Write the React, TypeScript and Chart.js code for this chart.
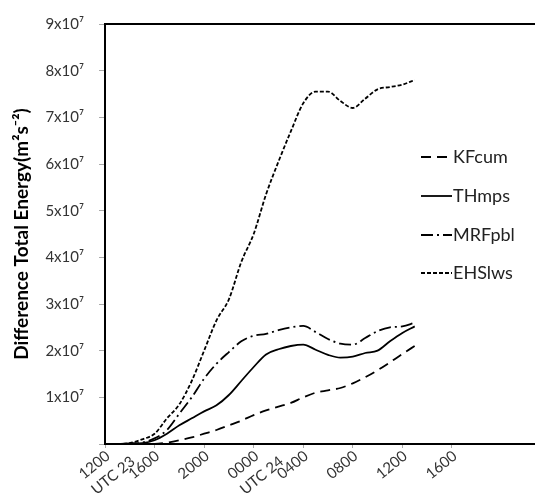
import React, { useEffect, useRef } from "react";
import { Chart, registerables } from "chart.js";

Chart.register(...registerables);

// hours since 1200 UTC 23
const hours = [0, 1, 2, 3, 4, 5, 6, 7, 8, 9, 10, 11, 12, 13, 14, 15, 16, 17, 18, 19, 20, 21, 22, 23, 24, 25];

// values in units of 10^7 m^2 s^-2
const kfcum = [0, 0, 0, 0, 0, 0.03, 0.08, 0.14, 0.22, 0.3, 0.4, 0.5, 0.62, 0.72, 0.8, 0.88, 1.0, 1.1, 1.15, 1.2, 1.3, 1.43, 1.58, 1.75, 1.93, 2.1];
const thmps = [0, 0, 0.01, 0.02, 0.08, 0.22, 0.4, 0.55, 0.7, 0.83, 1.05, 1.35, 1.65, 1.92, 2.03, 2.1, 2.13, 2.02, 1.91, 1.85, 1.87, 1.95, 2.0, 2.2, 2.38, 2.52];
const mrfpbl = [0, 0, 0.01, 0.03, 0.12, 0.3, 0.65, 1.0, 1.4, 1.72, 1.97, 2.2, 2.32, 2.36, 2.44, 2.5, 2.53, 2.4, 2.25, 2.15, 2.13, 2.27, 2.42, 2.5, 2.52, 2.6];
const ehslws = [0, 0, 0.02, 0.1, 0.22, 0.55, 0.85, 1.35, 2.0, 2.65, 3.1, 3.9, 4.5, 5.35, 6.05, 6.7, 7.3, 7.55, 7.55, 7.35, 7.2, 7.4, 7.6, 7.65, 7.7, 7.8];

const seriesNames = ["KFcum", "THmps", "MRFpbl", "EHSlws"];
const seriesData = [kfcum, thmps, mrfpbl, ehslws];
const seriesDash = [[10, 6], [], [12, 4, 2, 4], [4, 2]];

const xTickHours = [0, 4, 8, 12, 16, 20, 24, 28];
const xTickLabels: string[][] = [["1200", "UTC 23"], ["1600"], ["2000"], ["0000", "UTC 24"], ["0400"], ["0800"], ["1200"], ["1600"]];

const yTickValues = [0, 1, 2, 3, 4, 5, 6, 7, 8, 9];

const FONT = "Lato, 'Open Sans', sans-serif";

const overlayPlugin = {
  id: "overlay",
  afterDraw(chart: any) {
    const ctx = chart.ctx;
    const a = chart.chartArea;
    ctx.save();
    // legend
    const x0 = 421;
    const x1 = 452;
    const ys = [157, 196, 235, 273];
    ctx.font = `18px ${FONT}`;
    ctx.textBaseline = "middle";
    ctx.textAlign = "left";
    seriesNames.forEach((name, i) => {
      ctx.strokeStyle = "#000";
      ctx.lineWidth = 1.8;
      ctx.setLineDash(seriesDash[i]);
      ctx.beginPath();
      ctx.moveTo(x0, ys[i]);
      ctx.lineTo(x1, ys[i]);
      ctx.stroke();
      ctx.setLineDash([]);
      ctx.fillStyle = "#222";
      ctx.fillText(name, x1 + 1, ys[i]);
    });
    // top frame line
    ctx.strokeStyle = "#000";
    ctx.lineWidth = 2;
    ctx.beginPath();
    ctx.moveTo(a.left, a.top);
    ctx.lineTo(a.right + 10, a.top);
    ctx.stroke();
    // rotated x labels
    const xs = chart.scales.x;
    const ang = (39 * Math.PI) / 180;
    ctx.font = `15px ${FONT}`;
    ctx.fillStyle = "#333";
    ctx.textBaseline = "middle";
    xTickHours.forEach((h, i) => {
      const px = xs.getPixelForValue(h);
      const lines = xTickLabels[i];
      ctx.save();
      ctx.translate(px + 3, a.bottom + 10);
      ctx.rotate(-ang);
      const w0 = ctx.measureText(lines[0]).width;
      ctx.textAlign = "right";
      ctx.fillText(lines[0], 0, 0);
      for (let k = 1; k < lines.length; k++) {
        ctx.textAlign = "left";
        ctx.fillText(lines[k], -w0, 20 * k);
      }
      ctx.restore();
    });
    ctx.restore();
  },
};

export default function App() {
  const ref = useRef<HTMLCanvasElement | null>(null);
  useEffect(() => {
    if (!ref.current) return;
    const chart = new Chart(ref.current, {
      type: "line",
      data: {
        datasets: seriesNames.map((name, i) => ({
          label: name,
          data: hours.map((h, j) => ({ x: h, y: seriesData[i][j] })),
          borderColor: "#000",
          borderWidth: 1.8,
          borderDash: seriesDash[i],
          pointRadius: 0,
          fill: false,
          cubicInterpolationMode: "monotone" as const,
        })),
      },
      plugins: [overlayPlugin],
      options: {
        animation: false,
        responsive: false,
        layout: { padding: { top: 21, right: 0, left: 0, bottom: 0 } },
        plugins: { legend: { display: false }, tooltip: { enabled: false } },
        scales: {
          x: {
            type: "linear",
            min: 0,
            max: 36,
            afterBuildTicks: (scale: any) => {
              scale.ticks = xTickHours.map((v) => ({ value: v }));
            },
            afterFit: (scale: any) => {
              scale.height = 51;
            },
            ticks: { display: false },
            grid: { display: true, drawOnChartArea: false, drawTicks: true, tickLength: 4, color: "#aaa" },
            border: { display: true, color: "#000", width: 2 },
          },
          y: {
            min: 0,
            max: 9,
            afterBuildTicks: (scale: any) => {
              scale.ticks = yTickValues.map((v) => ({ value: v }));
            },
            afterFit: (scale: any) => {
              scale.width = 105;
            },
            ticks: {
              padding: 15,
              color: "#333",
              font: { family: FONT, size: 15 },
              callback: (v: any) => (Number(v) === 0 ? "" : `${v}x10⁷`),
            },
            grid: { display: true, drawOnChartArea: false, drawTicks: true, tickLength: 6, color: "#aaa" },
            border: { display: true, color: "#000", width: 2 },
            title: {
              display: true,
              text: "Difference Total Energy(m²s⁻²)",
              color: "#000",
              font: { family: FONT, size: 19, weight: "bold" },
              padding: { top: 10, bottom: 0 },
            },
          },
        },
      },
    });
    return () => chart.destroy();
  }, []);
  return (
    <div style={{ position: "absolute", left: 0, top: 0, width: 535, height: 495, overflow: "hidden", background: "#fff" }}>
      <canvas ref={ref} width={551} height={495} />
    </div>
  );
}
